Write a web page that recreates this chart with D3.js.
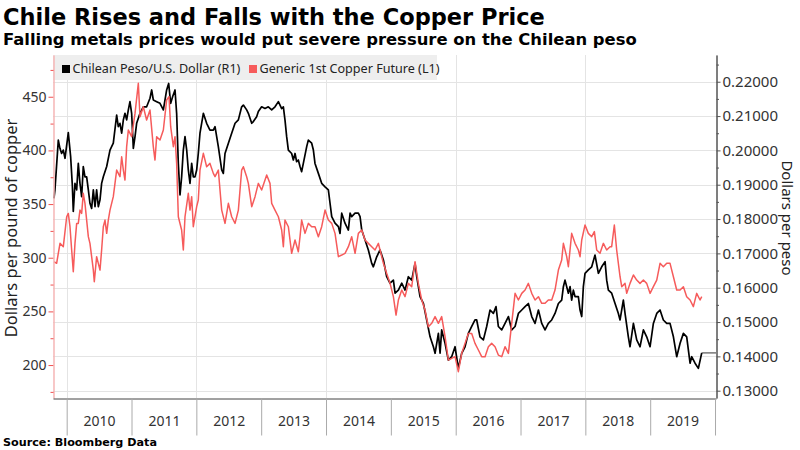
<!DOCTYPE html>
<html><head><meta charset="utf-8">
<script src="https://cdn.jsdelivr.net/npm/d3@7"></script>
<style>body{margin:0;background:#fff} svg{display:block}</style>
</head><body><svg id="c" width="800" height="450"></svg>
<script>
// ---- data (decimal year, value) ----
const pesoSeries = [
[2009.804,0.1860],[2009.819,0.1885],[2009.871,0.2030],[2009.896,0.2006],[2009.922,0.1991],[2009.948,0.2001],[2009.974,0.1977],[2010.025,0.2052],[2010.061,0.1982],[2010.087,0.1899],[2010.102,0.1822],[2010.128,0.1904],[2010.154,0.1885],[2010.179,0.1962],[2010.205,0.1904],[2010.231,0.1865],[2010.256,0.1953],[2010.282,0.1923],[2010.308,0.1923],[2010.334,0.1885],[2010.359,0.1846],[2010.385,0.1831],[2010.411,0.1885],[2010.437,0.1836],[2010.462,0.1885],[2010.488,0.1836],[2010.514,0.1856],[2010.539,0.1904],[2010.565,0.1923],[2010.617,0.1953],[2010.668,0.2001],[2010.719,0.2021],[2010.771,0.2103],[2010.796,0.2069],[2010.822,0.2079],[2010.848,0.2050],[2010.874,0.2089],[2010.899,0.2108],[2010.925,0.2089],[2010.951,0.2118],[2010.976,0.2142],[2011.002,0.2108],[2011.028,0.2006],[2011.054,0.2040],[2011.079,0.2079],[2011.131,0.2108],[2011.182,0.2127],[2011.233,0.2127],[2011.285,0.2152],[2011.311,0.2176],[2011.336,0.2147],[2011.388,0.2142],[2011.439,0.2137],[2011.491,0.2118],[2011.542,0.2176],[2011.573,0.2195],[2011.604,0.2137],[2011.635,0.2157],[2011.671,0.2176],[2011.696,0.2108],[2011.722,0.1962],[2011.748,0.1870],[2011.773,0.1923],[2011.799,0.2001],[2011.825,0.2040],[2011.851,0.2001],[2011.876,0.1943],[2011.902,0.1904],[2011.928,0.1962],[2011.953,0.1923],[2011.979,0.1923],[2012.005,0.1943],[2012.030,0.1991],[2012.056,0.2050],[2012.108,0.2108],[2012.159,0.2079],[2012.210,0.2059],[2012.262,0.2059],[2012.288,0.2069],[2012.339,0.2011],[2012.391,0.1943],[2012.416,0.1933],[2012.442,0.1991],[2012.494,0.2021],[2012.545,0.2050],[2012.597,0.2079],[2012.648,0.2089],[2012.699,0.2127],[2012.725,0.2132],[2012.776,0.2118],[2012.802,0.2108],[2012.854,0.2079],[2012.879,0.2084],[2012.930,0.2098],[2012.956,0.2113],[2013.007,0.2127],[2013.059,0.2122],[2013.110,0.2127],[2013.162,0.2118],[2013.213,0.2127],[2013.265,0.2142],[2013.316,0.2122],[2013.342,0.2127],[2013.367,0.2089],[2013.393,0.2040],[2013.419,0.2001],[2013.470,0.1991],[2013.496,0.1972],[2013.522,0.1991],[2013.547,0.1967],[2013.573,0.1972],[2013.599,0.1953],[2013.624,0.1938],[2013.650,0.1962],[2013.702,0.2011],[2013.727,0.2030],[2013.779,0.2021],[2013.805,0.2001],[2013.830,0.1962],[2013.882,0.1933],[2013.933,0.1904],[2013.985,0.1894],[2014.036,0.1885],[2014.062,0.1846],[2014.088,0.1807],[2014.139,0.1788],[2014.191,0.1778],[2014.216,0.1758],[2014.242,0.1817],[2014.293,0.1788],[2014.345,0.1768],[2014.371,0.1817],[2014.396,0.1807],[2014.448,0.1817],[2014.499,0.1817],[2014.525,0.1807],[2014.551,0.1768],[2014.602,0.1739],[2014.653,0.1710],[2014.705,0.1671],[2014.730,0.1661],[2014.782,0.1690],[2014.833,0.1710],[2014.885,0.1681],[2014.936,0.1632],[2014.988,0.1613],[2015.039,0.1622],[2015.065,0.1584],[2015.116,0.1593],[2015.168,0.1613],[2015.219,0.1593],[2015.270,0.1632],[2015.322,0.1622],[2015.373,0.1671],[2015.399,0.1632],[2015.450,0.1574],[2015.502,0.1554],[2015.553,0.1506],[2015.605,0.1457],[2015.656,0.1428],[2015.682,0.1409],[2015.733,0.1467],[2015.759,0.1409],[2015.784,0.1477],[2015.836,0.1438],[2015.887,0.1389],[2015.938,0.1399],[2015.990,0.1428],[2016.041,0.1365],[2016.093,0.1409],[2016.144,0.1428],[2016.195,0.1467],[2016.247,0.1487],[2016.298,0.1506],[2016.324,0.1506],[2016.375,0.1457],[2016.427,0.1448],[2016.478,0.1487],[2016.530,0.1535],[2016.581,0.1525],[2016.622,0.1545],[2016.658,0.1487],[2016.710,0.1477],[2016.761,0.1496],[2016.813,0.1516],[2016.864,0.1477],[2016.916,0.1487],[2016.967,0.1525],[2017.019,0.1535],[2017.070,0.1545],[2017.121,0.1554],[2017.173,0.1516],[2017.224,0.1496],[2017.276,0.1535],[2017.327,0.1496],[2017.378,0.1477],[2017.429,0.1496],[2017.481,0.1506],[2017.532,0.1525],[2017.584,0.1554],[2017.635,0.1564],[2017.661,0.1603],[2017.686,0.1622],[2017.738,0.1584],[2017.764,0.1603],[2017.789,0.1564],[2017.815,0.1593],[2017.841,0.1574],[2017.892,0.1574],[2017.918,0.1535],[2017.944,0.1516],[2017.969,0.1603],[2017.995,0.1642],[2018.046,0.1652],[2018.098,0.1661],[2018.149,0.1695],[2018.201,0.1642],[2018.252,0.1661],[2018.304,0.1676],[2018.329,0.1622],[2018.355,0.1593],[2018.406,0.1584],[2018.458,0.1554],[2018.509,0.1525],[2018.535,0.1506],[2018.586,0.1564],[2018.612,0.1525],[2018.663,0.1457],[2018.689,0.1428],[2018.741,0.1496],[2018.792,0.1448],[2018.843,0.1428],[2018.895,0.1477],[2018.946,0.1457],[2018.998,0.1428],[2019.049,0.1496],[2019.101,0.1525],[2019.152,0.1535],[2019.203,0.1506],[2019.255,0.1496],[2019.306,0.1496],[2019.358,0.1457],[2019.409,0.1399],[2019.461,0.1438],[2019.512,0.1467],[2019.563,0.1457],[2019.615,0.1380],[2019.640,0.1399],[2019.692,0.1380],[2019.743,0.1365],[2019.795,0.1410]
];
const copperSeries = [
[2009.804,296.3],[2009.845,294.8],[2009.897,313.4],[2009.948,310.3],[2010.000,338.2],[2010.025,341.3],[2010.051,328.9],[2010.077,307.2],[2010.102,287.0],[2010.128,313.4],[2010.154,332.0],[2010.179,332.0],[2010.205,344.4],[2010.231,341.3],[2010.256,360.0],[2010.282,350.7],[2010.308,335.1],[2010.334,319.6],[2010.359,313.4],[2010.385,301.0],[2010.411,288.5],[2010.426,277.7],[2010.462,301.0],[2010.514,288.5],[2010.539,307.2],[2010.565,328.9],[2010.591,335.1],[2010.617,322.7],[2010.642,335.1],[2010.668,344.4],[2010.719,356.9],[2010.771,381.7],[2010.822,375.5],[2010.848,394.1],[2010.874,381.7],[2010.899,372.4],[2010.925,403.5],[2010.951,419.0],[2011.002,412.8],[2011.054,434.5],[2011.105,462.5],[2011.131,431.4],[2011.182,440.7],[2011.233,428.3],[2011.285,437.6],[2011.336,403.5],[2011.362,391.0],[2011.388,412.8],[2011.439,409.7],[2011.491,419.0],[2011.542,447.0],[2011.578,450.1],[2011.604,422.1],[2011.645,403.5],[2011.671,412.8],[2011.696,387.9],[2011.722,338.2],[2011.773,325.8],[2011.799,307.2],[2011.825,338.2],[2011.876,360.0],[2011.902,344.4],[2011.928,356.9],[2011.953,328.9],[2012.005,347.6],[2012.030,353.8],[2012.056,381.7],[2012.108,397.3],[2012.159,384.8],[2012.210,387.9],[2012.262,378.6],[2012.288,375.5],[2012.339,381.7],[2012.391,344.4],[2012.442,332.0],[2012.494,350.7],[2012.545,338.2],[2012.597,332.0],[2012.648,344.4],[2012.699,381.7],[2012.725,384.8],[2012.776,375.5],[2012.802,369.3],[2012.854,347.6],[2012.905,356.9],[2012.956,369.3],[2013.007,363.1],[2013.059,372.4],[2013.085,377.1],[2013.136,369.3],[2013.162,350.7],[2013.213,344.4],[2013.265,338.2],[2013.316,325.8],[2013.342,310.3],[2013.367,335.1],[2013.419,328.9],[2013.470,304.1],[2013.522,316.5],[2013.573,305.6],[2013.599,319.6],[2013.624,335.1],[2013.676,322.7],[2013.727,332.0],[2013.779,328.9],[2013.830,328.9],[2013.882,319.6],[2013.933,328.9],[2013.985,344.4],[2014.036,335.1],[2014.088,332.0],[2014.139,322.7],[2014.191,301.0],[2014.242,302.5],[2014.293,304.1],[2014.345,310.3],[2014.396,319.6],[2014.448,304.1],[2014.499,322.7],[2014.551,325.8],[2014.602,316.5],[2014.653,313.4],[2014.705,310.3],[2014.756,307.2],[2014.808,313.4],[2014.833,307.2],[2014.885,294.8],[2014.936,285.4],[2014.988,276.1],[2015.039,263.7],[2015.080,246.6],[2015.116,260.6],[2015.168,269.9],[2015.219,263.7],[2015.270,276.1],[2015.322,273.0],[2015.373,296.3],[2015.424,276.1],[2015.476,260.6],[2015.527,251.3],[2015.579,235.7],[2015.630,238.9],[2015.682,245.1],[2015.733,238.9],[2015.784,245.1],[2015.836,226.4],[2015.887,204.7],[2015.938,206.2],[2015.990,207.8],[2016.041,193.8],[2016.093,210.9],[2016.144,220.2],[2016.195,229.5],[2016.247,229.5],[2016.298,220.2],[2016.350,214.0],[2016.401,207.8],[2016.453,207.8],[2016.504,217.1],[2016.555,220.2],[2016.607,217.1],[2016.658,209.3],[2016.710,207.8],[2016.761,217.1],[2016.813,210.9],[2016.864,238.9],[2016.916,266.8],[2016.967,260.6],[2017.019,266.8],[2017.070,269.9],[2017.121,276.1],[2017.173,266.8],[2017.224,260.6],[2017.276,263.7],[2017.327,257.5],[2017.378,257.5],[2017.429,260.6],[2017.481,260.6],[2017.532,269.9],[2017.584,288.5],[2017.635,297.9],[2017.661,313.4],[2017.712,301.0],[2017.738,291.6],[2017.789,322.7],[2017.841,313.4],[2017.892,307.2],[2017.918,301.0],[2017.944,316.5],[2017.995,330.5],[2018.046,322.7],[2018.098,319.6],[2018.139,324.3],[2018.175,307.2],[2018.226,304.1],[2018.278,313.4],[2018.329,307.2],[2018.381,310.3],[2018.406,310.3],[2018.447,330.5],[2018.483,307.2],[2018.535,282.3],[2018.561,273.0],[2018.612,276.1],[2018.638,266.8],[2018.689,276.1],[2018.741,283.9],[2018.792,279.2],[2018.843,276.1],[2018.895,279.2],[2018.946,276.1],[2018.998,266.8],[2019.049,273.0],[2019.101,279.2],[2019.152,294.8],[2019.203,291.6],[2019.255,294.8],[2019.306,294.8],[2019.358,282.3],[2019.409,269.9],[2019.461,269.9],[2019.512,273.0],[2019.563,263.7],[2019.615,260.6],[2019.666,254.4],[2019.717,266.8],[2019.769,260.6],[2019.795,263.7]
];
const yearLabels = [2010,2011,2012,2013,2014,2015,2016,2017,2018,2019];
const yearBounds = [2010,2011,2012,2013,2014,2015,2016,2017,2018,2019,2020];
const gridYears = [2010,2012,2014,2016,2018];
const leftTicks = [200,250,300,350,400,450];
const leftMinor = [175,225,275,325,375,425,475];
const rightTicks = [0.13,0.14,0.15,0.16,0.17,0.18,0.19,0.20,0.21,0.22];
const rightMinor = [0.135,0.145,0.155,0.165,0.175,0.185,0.195,0.205,0.215,0.225];
const seriesNames = ["Chilean Peso/U.S. Dollar (R1)","Generic 1st Copper Future (L1)"];
const seriesColors = ["#000000","#f65b5b"];

// ---- layout ----
const svg = d3.select("#c");
const M = {left:53,right:716,top:55,bottom:398};
const x = d3.scaleLinear().domain([2009.789,2020.015]).range([M.left,M.right]);
const yL = d3.scaleLinear().domain([169.3,488.9]).range([M.bottom,M.top]);
const yR = d3.scaleLinear().domain([0.12787,0.22779]).range([M.bottom,M.top]);
const FONT = "'Noto Sans', sans-serif";

// gridlines
svg.append("g").selectAll("line").data(rightTicks).join("line")
  .attr("x1",M.left).attr("x2",M.right).attr("y1",d=>Math.round(yR(d))+0.5).attr("y2",d=>Math.round(yR(d))+0.5)
  .attr("stroke","#e4e4e4");
svg.append("g").selectAll("line").data(gridYears).join("line")
  .attr("x1",d=>Math.round(x(d))+0.5).attr("x2",d=>Math.round(x(d))+0.5).attr("y1",M.top).attr("y2",M.bottom)
  .attr("stroke","#e4e4e4");

// legend band
svg.append("rect").attr("x",M.left).attr("y",M.top).attr("width",437-M.left).attr("height",25).attr("fill","#eeeeee");
const legX = [62,249];
seriesNames.forEach((n,i)=>{
  svg.append("rect").attr("x",legX[i]).attr("y",65).attr("width",8).attr("height",8).attr("fill",seriesColors[i]);
  svg.append("text").attr("x",legX[i]+10.5).attr("y",73).attr("font-family",FONT).attr("font-size",12.6)
    .attr("fill","#222").text(n);
});

// lines
const linePeso = d3.line().x(d=>x(d[0])).y(d=>yR(d[1]));
const lineCopper = d3.line().x(d=>x(d[0])).y(d=>yL(d[1]));
svg.append("path").datum(pesoSeries).attr("d",linePeso).attr("fill","none").attr("stroke",seriesColors[0]).attr("stroke-width",1.7).attr("stroke-linejoin","round");
svg.append("path").datum(copperSeries).attr("d",lineCopper).attr("fill","none").attr("stroke",seriesColors[1]).attr("stroke-width",1.5).attr("stroke-linejoin","round");
// last value line for peso
const last = pesoSeries[pesoSeries.length-1];
svg.append("line").attr("x1",x(last[0])).attr("x2",M.right).attr("y1",yR(last[1])).attr("y2",yR(last[1])).attr("stroke","#333").attr("stroke-width",1);

// left axis
const gL = svg.append("g").attr("transform",`translate(${M.left+0.5},0)`);
gL.call(d3.axisLeft(yL).tickValues(leftTicks).tickSize(5).tickSizeOuter(0).tickPadding(2));
gL.append("g").call(d3.axisLeft(yL).tickValues(leftMinor).tickSize(3).tickSizeOuter(0).tickFormat(""));
gL.selectAll(".domain").attr("stroke","#f5b5b5");
gL.selectAll(".tick line").attr("stroke","#f05050");
gL.selectAll("text").attr("font-family",FONT).attr("font-size",14).attr("fill","#333");

// right axis
const gR = svg.append("g").attr("transform",`translate(${M.right+0.5},0)`);
gR.call(d3.axisRight(yR).tickValues(rightTicks).tickSize(4).tickSizeOuter(0).tickPadding(2).tickFormat(d3.format(".5f")));
gR.append("g").call(d3.axisRight(yR).tickValues(rightMinor).tickSize(2.5).tickSizeOuter(0).tickFormat(""));
gR.selectAll(".domain").attr("stroke","#555");
gR.selectAll(".tick line").attr("stroke","#555");
gR.selectAll("text").attr("font-family",FONT).attr("font-size",15).attr("fill","#333");

// bottom axis
const gB = svg.append("g").attr("transform",`translate(0,${M.bottom+0.5})`);
gB.call(d3.axisBottom(x).tickValues(yearBounds).tickSize(37).tickSizeOuter(0).tickFormat(""));
gB.selectAll(".domain").attr("stroke","#444");
gB.selectAll(".tick line").attr("stroke","#aaa");
const gB2 = svg.append("g").attr("transform",`translate(0,${M.bottom})`);
gB2.call(d3.axisBottom(x).tickValues(yearLabels.map(y=>y+0.5)).tickSize(0).tickPadding(18).tickFormat(d=>String(Math.floor(d))));
gB2.select(".domain").remove();
gB2.selectAll("text").attr("font-family",FONT).attr("font-size",14).attr("fill","#333");

// axis titles
svg.append("text").attr("transform","translate(17,228) rotate(-90)").attr("text-anchor","middle")
  .attr("font-family",FONT).attr("font-size",16.5).attr("fill","#222").text("Dollars per pound of copper");
svg.append("text").attr("transform","translate(781.5,218) rotate(90)").attr("text-anchor","middle")
  .attr("font-family",FONT).attr("font-size",15).attr("fill","#222").text("Dollars per peso");

// titles
function fit(sel, target){ const n=sel.node(); const w=n.getComputedTextLength(); const fs=+sel.attr("font-size"); sel.attr("font-size",fs*target/w); }
const t1 = svg.append("text").attr("x",3).attr("y",25).attr("font-family","'DejaVu Sans', sans-serif").attr("font-weight","bold").attr("font-size",22).attr("fill","#000").text("Chile Rises and Falls with the Copper Price");
fit(t1,542);
const t2 = svg.append("text").attr("x",3).attr("y",45).attr("font-family","'DejaVu Sans', sans-serif").attr("font-weight","bold").attr("font-size",16).attr("fill","#000").text("Falling metals prices would put severe pressure on the Chilean peso");
fit(t2,634);
const t3 = svg.append("text").attr("x",3).attr("y",446).attr("font-family","'DejaVu Sans', sans-serif").attr("font-weight","bold").attr("font-size",12).attr("fill","#000").text("Source: Bloomberg Data");
fit(t3,154);
</script></body></html>
